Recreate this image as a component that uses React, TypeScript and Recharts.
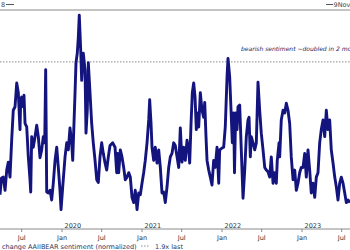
import React from 'react';
import { LineChart, Line, XAxis, YAxis, ReferenceLine } from 'recharts';

// weekly-ish observation dates (decimal years)
const dates = [
  2019.225, 2019.244, 2019.266, 2019.288, 2019.309, 2019.329, 2019.35, 2019.371, 2019.391, 2019.413,
  2019.434, 2019.454, 2019.475, 2019.484, 2019.496, 2019.516, 2019.525, 2019.538, 2019.559, 2019.579,
  2019.6, 2019.609, 2019.621, 2019.641, 2019.663, 2019.684, 2019.704, 2019.725, 2019.746, 2019.766,
  2019.784, 2019.796, 2019.809, 2019.829, 2019.85, 2019.871, 2019.891, 2019.913, 2019.934, 2019.954,
  2019.975, 2019.988, 2020.009, 2020.038, 2020.059, 2020.079, 2020.1, 2020.121, 2020.134, 2020.163,
  2020.175, 2020.191, 2020.204, 2020.216, 2020.234, 2020.246, 2020.266, 2020.288, 2020.3, 2020.316,
  2020.329, 2020.35, 2020.371, 2020.391, 2020.413, 2020.434, 2020.454, 2020.475, 2020.496, 2020.516,
  2020.538, 2020.559, 2020.579, 2020.6, 2020.634, 2020.663, 2020.684,
  2020.694, 2020.709, 2020.729, 2020.75, 2020.771, 2020.791, 2020.813, 2020.834, 2020.854, 2020.875,
  2020.896, 2020.916, 2020.938, 2020.959, 2020.979, 2021.0, 2021.021, 2021.041, 2021.063, 2021.084,
  2021.096, 2021.113, 2021.125, 2021.146, 2021.166, 2021.188, 2021.209, 2021.229, 2021.25, 2021.271,
  2021.291, 2021.313, 2021.334, 2021.354, 2021.375, 2021.396, 2021.416, 2021.438, 2021.459, 2021.479,
  2021.5, 2021.521, 2021.541, 2021.563, 2021.584, 2021.596, 2021.613, 2021.629, 2021.646, 2021.663,
  2021.679, 2021.696, 2021.709, 2021.729, 2021.75, 2021.771, 2021.784, 2021.8, 2021.813, 2021.834,
  2021.854, 2021.875, 2021.896, 2021.916, 2021.938, 2021.959, 2021.971, 2022.0, 2022.021, 2022.041,
  2022.063, 2022.075, 2022.096, 2022.113, 2022.129, 2022.146,
  2022.156, 2022.171, 2022.188, 2022.2, 2022.221, 2022.241, 2022.263, 2022.284, 2022.304, 2022.325,
  2022.338, 2022.354, 2022.366, 2022.388, 2022.409, 2022.429, 2022.45, 2022.471, 2022.491, 2022.513,
  2022.534, 2022.554, 2022.575, 2022.596, 2022.616, 2022.638, 2022.659, 2022.679, 2022.691, 2022.713,
  2022.721, 2022.741, 2022.763, 2022.784, 2022.804, 2022.825, 2022.846, 2022.866, 2022.888, 2022.909,
  2022.929, 2022.95, 2022.971, 2022.991, 2023.013, 2023.034, 2023.054, 2023.075, 2023.096, 2023.116,
  2023.138, 2023.159, 2023.179, 2023.2, 2023.221, 2023.241, 2023.263, 2023.284, 2023.304, 2023.325,
  2023.346, 2023.366, 2023.388, 2023.409, 2023.429, 2023.45, 2023.471, 2023.491, 2023.513, 2023.534,
  2023.554, 2023.575, 2023.6,
];

// 2m change in AAII bearish sentiment, normalized
const bearish = [
  0.39, 0.58, 0.59, 0.44, 0.67, 0.76, 0.59, 1.01, 1.35, 1.39,
  1.66, 1.55, 1.13, 1.47, 1.5, 1.39, 1.52, 1.2, 1.16, 0.82,
  0.56, 0.42, 1.05, 0.93, 1.05, 1.18, 1.05, 0.81, 0.9, 1.05,
  0.98, 1.81, 0.42, 0.41, 0.44, 0.33, 0.52, 0.78, 0.93, 0.7,
  0.44, 0.22, 0.48, 0.82, 0.98, 0.9, 1.15, 0.98, 0.78, 1.55,
  1.89, 2.0, 2.18, 2.43, 2.03, 1.69, 2.0, 1.81, 1.09, 1.35,
  1.89, 1.55, 1.2, 0.98, 0.78, 0.56, 0.53, 0.82, 0.98, 0.86,
  0.75, 0.67, 0.82, 0.95, 0.98, 0.93, 0.64,
  0.86, 0.64, 0.9, 0.82, 0.7, 0.56, 0.59, 0.64, 0.59, 0.36,
  0.3, 0.44, 0.22, 0.41, 0.39, 0.52, 0.64, 0.78, 0.98, 1.24,
  1.47, 1.2, 0.93, 0.78, 0.93, 0.75, 0.9, 0.7, 0.41, 0.42,
  0.3, 0.48, 0.7, 0.82, 0.86, 0.98, 0.95, 0.82, 0.7, 1.15,
  0.76, 0.93, 0.78, 1.01, 0.9, 0.75, 1.2, 1.55, 1.66, 1.5,
  1.13, 1.32, 1.16, 1.55, 1.35, 1.27, 1.44, 1.05, 0.78, 0.67,
  0.59, 0.5, 0.78, 0.7, 0.93, 0.52, 0.9, 0.92, 0.93, 1.16,
  1.73, 1.94, 1.73, 1.35, 0.98, 1.32,
  0.64, 1.32, 1.13, 1.39, 1.41, 0.9, 0.35, 0.67, 1.05, 1.24,
  1.27, 0.82, 1.05, 0.98, 0.9, 0.98, 1.67, 1.35, 1.09, 0.9,
  0.7, 0.67, 0.65, 0.59, 0.82, 0.52, 0.64, 0.52, 0.78, 0.98,
  0.82, 1.24, 1.35, 1.32, 1.43, 1.35, 1.2, 0.82, 0.56, 0.67,
  0.44, 0.52, 0.64, 0.7, 0.7, 0.86, 0.59, 0.9, 0.67, 0.41,
  0.52, 0.36, 0.59, 0.64, 0.98, 1.13, 1.24, 1.05, 1.35, 1.13,
  1.24, 0.9, 0.75, 0.59, 0.48, 0.33, 0.52, 0.59, 0.52, 0.41,
  0.3, 0.33, 0.3,
];

const threshold = 1.9;
const axisTicks = [2019.496, 2020.0, 2020.496, 2021.0, 2021.496, 2022.0, 2022.496, 2023.0, 2023.496];
const tickLabels = ['Jul', 'Jan', 'Jul', 'Jan', 'Jul', 'Jan', 'Jul', 'Jan', 'Jul'];
const yearLabels = ['', '2020', '', '2021', '', '2022', '', '2023', ''];

const data = dates.map((t, i) => ({ t, v: bearish[i] }));

const NAVY = '#14147f';
const AXIS = '#8a8a8a';
const FONT = '"DejaVu Sans", Verdana, sans-serif';

const DateTick = (props: any) => {
  const { x, y, index } = props;
  return (
    <g>
      <text x={x} y={y + 7.5} textAnchor="middle" fontSize={6.5} fill="#333" fontFamily={FONT}>
        {tickLabels[index]}
      </text>
      {yearLabels[index] && (
        <text x={x + 2.5} y={y - 4.5} textAnchor="start" fontSize={6.5} fill="#333" fontFamily={FONT}>
          {yearLabels[index]}
        </text>
      )}
    </g>
  );
};

const NoteLabel = (props: any) => {
  const { viewBox } = props;
  return (
    <text
      x={viewBox.x + 241}
      y={viewBox.y - 11}
      fontSize={6}
      fontStyle="italic"
      fill="#22225e"
      fontFamily={FONT}
    >
      bearish sentiment ~doubled in 2 months
    </text>
  );
};

export default function App() {
  return (
    <div
      style={{
        position: 'fixed',
        left: 0,
        top: 0,
        width: 350,
        height: 250,
        background: '#fff',
        overflow: 'hidden',
        fontFamily: FONT,
      }}
    >
      <LineChart width={350} height={250} data={data} margin={{ top: 10, right: 0, bottom: 0, left: 0 }}>
        <XAxis
          dataKey="t"
          type="number"
          domain={[2019.225, 2023.6]}
          ticks={axisTicks}
          interval={0}
          allowDataOverflow
          height={21}
          stroke={AXIS}
          tickSize={3}
          tickMargin={0}
          tick={<DateTick />}
        />
        <YAxis hide domain={[0, 2.49]} allowDataOverflow />
        <ReferenceLine y={2.49} stroke={AXIS} strokeWidth={1} />
        <ReferenceLine
          y={threshold}
          stroke="#8c8c8c"
          strokeDasharray="1.5 1.5"
          strokeWidth={1}
          label={<NoteLabel />}
        />
        <Line
          type="linear"
          dataKey="v"
          stroke={NAVY}
          strokeWidth={2.9}
          strokeLinejoin="round"
          dot={false}
          isAnimationActive={false}
        />
      </LineChart>
      <svg width={350} height={250} style={{ position: 'absolute', left: 0, top: 0, pointerEvents: 'none' }}>
        <text x={1} y={7} fontSize={6.5} fill="#444" fontFamily={FONT}>8</text>
        <line x1={6} x2={14} y1={4.5} y2={4.5} stroke="#555" strokeWidth={1} />
        <line x1={326} x2={333} y1={4.5} y2={4.5} stroke="#555" strokeWidth={1} />
        <text x={333.5} y={7} fontSize={6.5} fill="#444" fontFamily={FONT}>9Nov</text>
        <text x={2} y={248.5} fontSize={6.5} fill="#2a3560" fontFamily={FONT}>
          change AAIIBEAR sentiment (normalized)
        </text>
        <line x1={141} x2={149} y1={246} y2={246} stroke="#8c8c8c" strokeDasharray="1.5 1.5" strokeWidth={1} />
        <text x={155} y={248.5} fontSize={6.5} fill="#2a3560" fontFamily={FONT}>1.9x last</text>
      </svg>
    </div>
  );
}
